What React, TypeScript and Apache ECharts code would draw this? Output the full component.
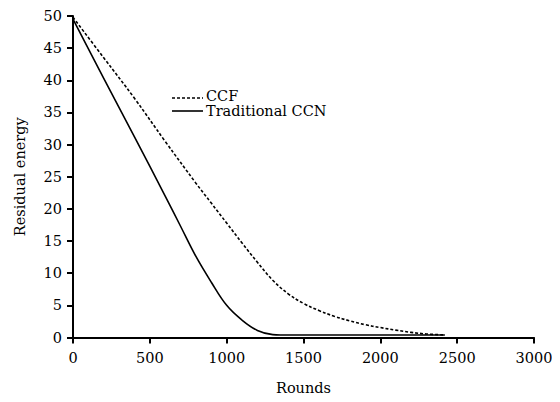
import React, { useEffect, useRef } from "react";
import * as echarts from "echarts";

const ccfRounds = [0, 200, 400, 600, 800, 900, 1000, 1100, 1200, 1300, 1400, 1500, 1600, 1700, 1800, 1900, 2000, 2100, 2200, 2300, 2420];
const ccfEnergy = [49.8, 43.5, 37.2, 30.5, 24.0, 20.9, 17.8, 14.7, 11.7, 8.9, 6.8, 5.3, 4.2, 3.3, 2.6, 2.0, 1.55, 1.15, 0.8, 0.55, 0.4];

const ccnRounds = [0, 200, 400, 600, 700, 800, 900, 1000, 1100, 1200, 1300, 1350, 2420];
const ccnEnergy = [49.5, 40.3, 31.2, 22.0, 17.3, 12.6, 8.6, 5.0, 2.7, 1.1, 0.45, 0.4, 0.4];

const seriesNames = ["CCF", "Traditional CCN"];
const xName = "Rounds";
const yName = "Residual energy";

export default function App() {
  const ref = useRef<HTMLDivElement>(null);
  useEffect(() => {
    if (!ref.current) return;
    const chart = echarts.init(ref.current, null, { renderer: "svg" });
    const font = "DejaVu Serif";
    const fs = 14.5;
    chart.setOption({
      animation: false,
      backgroundColor: "#fff",
      textStyle: { fontFamily: font },
      grid: { left: 73, top: 16, right: 26, bottom: 64.5, containLabel: false },
      graphic: [
        {
          type: "line",
          shape: { x1: 172, y1: 98, x2: 203, y2: 98 },
          style: { stroke: "#000", lineWidth: 1.6, lineDash: [3, 2] },
        },
        {
          type: "text",
          x: 206,
          y: 96,
          style: { text: seriesNames[0], fontSize: fs, fontFamily: font, fill: "#000", verticalAlign: "middle" },
        },
        {
          type: "line",
          shape: { x1: 172, y1: 111, x2: 203, y2: 111 },
          style: { stroke: "#000", lineWidth: 1.6 },
        },
        {
          type: "text",
          x: 206,
          y: 111,
          style: { text: seriesNames[1], fontSize: fs, fontFamily: font, fill: "#000", verticalAlign: "middle" },
        },
      ],
      xAxis: {
        type: "value",
        min: 0,
        max: 3000,
        interval: 500,
        name: xName,
        nameLocation: "middle",
        nameGap: 43,
        nameTextStyle: { fontFamily: font, fontSize: fs, color: "#000" },
        axisLine: { lineStyle: { color: "#000", width: 2 } },
        axisTick: { show: true, length: 6, lineStyle: { color: "#000", width: 2 } },
        axisLabel: { fontFamily: font, fontSize: fs, color: "#000", margin: 13, formatter: (v: number) => String(v) },
        splitLine: { show: false },
      },
      yAxis: {
        type: "value",
        min: 0,
        max: 50,
        interval: 5,
        name: yName,
        nameLocation: "middle",
        nameGap: 46,
        nameTextStyle: { fontFamily: font, fontSize: fs, color: "#000" },
        axisLine: { show: true, lineStyle: { color: "#000", width: 2 } },
        axisTick: { show: true, length: 6, lineStyle: { color: "#000", width: 2 } },
        axisLabel: { fontFamily: font, fontSize: fs, color: "#000", margin: 11, formatter: (v: number) => String(v) },
        splitLine: { show: false },
      },
      series: [
        {
          name: seriesNames[0],
          type: "line",
          symbol: "none",
          smooth: 0.4,
          data: ccfRounds.map((r, i) => [r, ccfEnergy[i]]),
          lineStyle: { color: "#000", width: 1.6, type: [3, 2] },
          itemStyle: { color: "#000" },
        },
        {
          name: seriesNames[1],
          type: "line",
          symbol: "none",
          smooth: 0.4,
          data: ccnRounds.map((r, i) => [r, ccnEnergy[i]]),
          lineStyle: { color: "#000", width: 1.6 },
          itemStyle: { color: "#000" },
        },
      ],
    });
    return () => chart.dispose();
  }, []);
  return <div ref={ref} style={{ width: 560, height: 402, margin: -8 }} />;
}
